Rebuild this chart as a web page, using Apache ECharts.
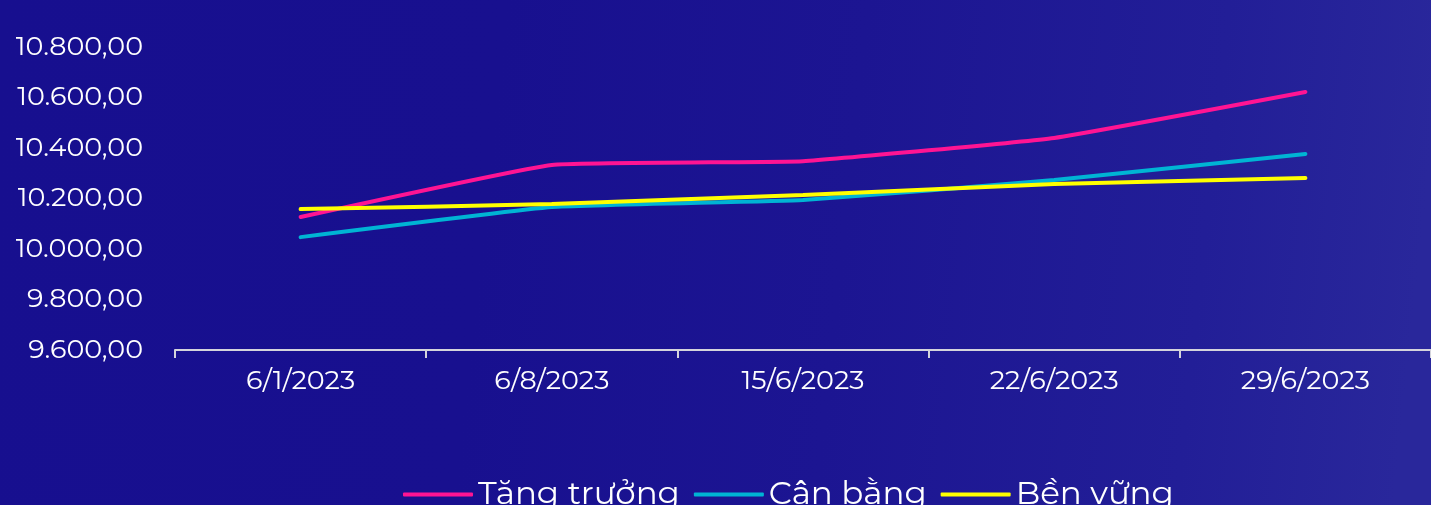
<!DOCTYPE html>
<html><head><meta charset="utf-8">
<script src="https://cdn.jsdelivr.net/npm/echarts@6/dist/echarts.min.js"></script>
<style>html,body{margin:0;padding:0;background:#170f8f;}#c{width:1431px;height:505px;}</style>
</head><body><div id="c"></div>
<script>
const categories = ['6/1/2023','6/8/2023','15/6/2023','22/6/2023','29/6/2023'];
const tangTruong = [10127, 10333, 10348, 10440, 10622];
const canBang = [10047, 10166, 10194, 10273, 10376];
const benVung = [10158, 10178, 10214, 10257, 10281];
const seriesNames = ['Tăng trưởng','Cân bằng','Bền vững'];
const font = 'Montserrat, "Open Sans", "DejaVu Sans", sans-serif';
function fmt(v){
  const s = Math.round(v).toString().replace(/\B(?=(\d{3})+(?!\d))/g,'.');
  return s + ',00';
}
const chart = echarts.init(document.getElementById('c'));
chart.setOption({
  backgroundColor: {type:'linear',x:0,y:0,x2:1,y2:0.3,colorStops:[
    {offset:0,color:'#170f8f'},{offset:0.35,color:'#18108f'},{offset:0.6,color:'#1c1592'},{offset:0.85,color:'#221e97'},{offset:1,color:'#29279b'}]},
  animation:false,
  grid:{left:175,top:47,width:1260,height:303},
  legend:{
    data:seriesNames, left:398, top:473, itemWidth:70, itemHeight:4, itemGap:14,
    icon:'roundRect',
    textStyle:{color:'#ffffff',fontSize:32.5,fontFamily:font}
  },
  xAxis:{type:'category',data:categories,boundaryGap:true,
    axisLine:{lineStyle:{color:'#d4d4dc',width:2}},
    axisTick:{show:true,length:8,lineStyle:{color:'#d4d4dc',width:2}},
    axisLabel:{color:'#ffffff',fontSize:27,fontFamily:font,margin:18}
  },
  yAxis:{type:'value',min:9600,max:10800,interval:200,
    axisLine:{show:false},axisTick:{show:false},splitLine:{show:false},
    axisLabel:{color:'#ffffff',fontSize:27,fontFamily:font,margin:32,formatter:fmt}
  },
  series:[
    {name:seriesNames[0],type:'line',data:tangTruong,smooth:0.1,showSymbol:false,lineStyle:{color:'#ff1493',width:4,cap:'round'},itemStyle:{color:'#ff1493'}},
    {name:seriesNames[1],type:'line',data:canBang,smooth:0.1,showSymbol:false,lineStyle:{color:'#00b4d4',width:4,cap:'round'},itemStyle:{color:'#00b4d4'}},
    {name:seriesNames[2],type:'line',data:benVung,smooth:0.1,showSymbol:false,lineStyle:{color:'#ffff00',width:4,cap:'round'},itemStyle:{color:'#ffff00'}}
  ]
});
</script></body></html>
